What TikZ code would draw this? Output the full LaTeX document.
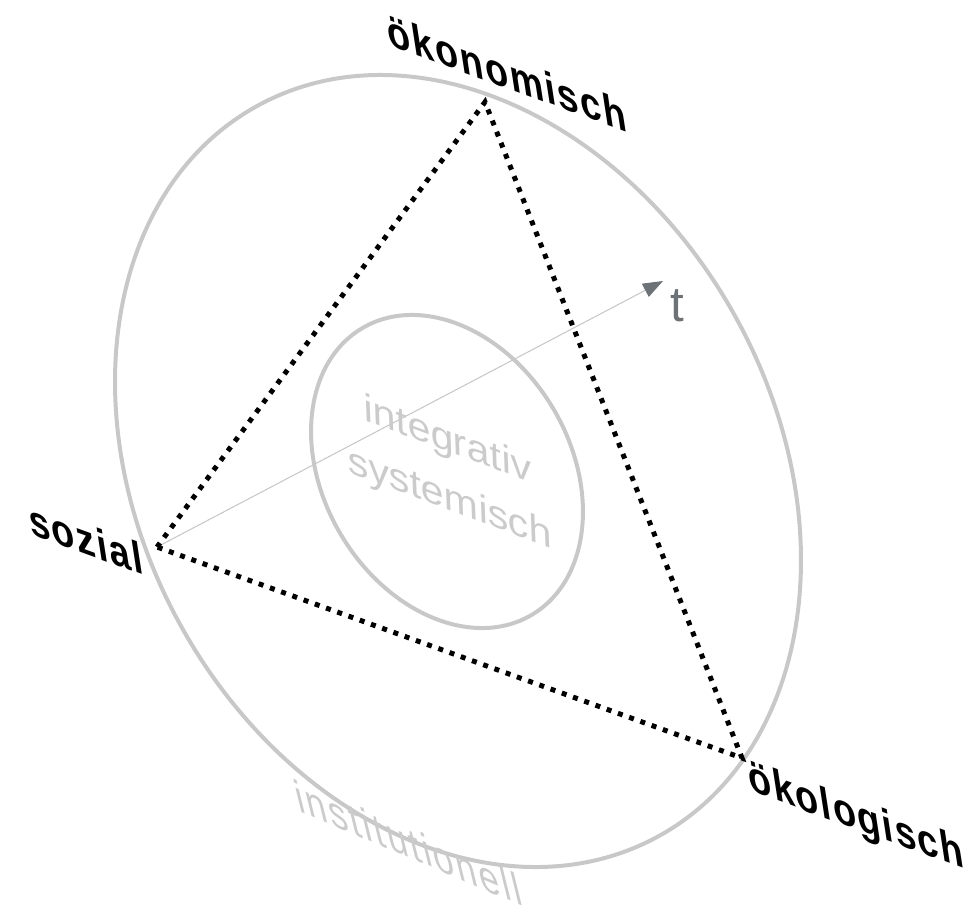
\documentclass[tikz,border=0pt]{standalone}
\usepackage{fontspec}
\setmainfont{Liberation Sans}
\newfontfamily\eckfont[LetterSpace=5]{Liberation Sans}
\newfontfamily\ebenefont[LetterSpace=7]{Liberation Sans}
\usetikzlibrary{arrows.meta}
\definecolor{ringgrau}{HTML}{C8C8C8}
\definecolor{textgrau}{HTML}{CBCBCB}
\definecolor{pfeilgrau}{HTML}{6D7276}
\tikzset{
  ring/.style={draw=ringgrau, line width=3pt},
  punktlinie/.style={line width=3.75pt, dash pattern=on 3.75pt off 5.2pt},
  ecke/.style={font=\eckfont\bfseries\fontsize{30pt}{30pt}\selectfont, anchor=base,
    transform shape, rotate=-20, xslant=-0.55, yscale=1.0, inner sep=0pt},
  ebene/.style={text=textgrau, transform shape, inner sep=0pt}
}
\begin{document}
\begin{tikzpicture}[x=0.75pt, y=-0.75pt]
  \useasboundingbox (0,0) rectangle (971,917);
  % 楕円（外側・内側）
  \draw[ring, rotate around={-61.25:(458,471)}] (458,471) ellipse (312.5pt and 238.1pt);
  \draw[ring, rotate around={-59.4:(447,471.5)}] (447,471.5) ellipse (124.9pt and 92.6pt);
  % 頂点
  \coordinate (oekon) at (485,102);
  \coordinate (sozi) at (157,547);
  \coordinate (oekol) at (742,758);
  \coordinate (zeitende) at (663,281);
  % 時間軸 t
  \draw[draw=ringgrau, line width=0.8pt,
    -{Triangle[color=pfeilgrau, length=15pt, width=11pt]}] (sozi) -- (zeitende);
  \node[font=\fontsize{37pt}{37pt}\selectfont, text=pfeilgrau] (zeit) at (677,306) {t};
  % 三角形（点線）
  \draw[punktlinie] (sozi) -- (oekon) -- (oekol) -- cycle;
  % 中央の文字
  \node[ebene, font=\fontsize{33pt}{50pt}\selectfont, align=center,
    rotate=-20.6, xslant=-0.42, yscale=0.82] (mitte) at (449,471) {integrativ\\systemisch};
  \node[ebene, font=\ebenefont\fontsize{30pt}{30pt}\selectfont, anchor=base,
    rotate=-23, xslant=-0.75, yscale=0.95] (inst) at (412,859) {institutionell};
  % 頂点の名前
  \node[ecke] (l-oekon) at (509,89) {ökonomisch};
  \node[ecke] (l-sozi) at (88,555) {sozial};
  \node[ecke] (l-oekol) at (858,830) {ökologisch};
\end{tikzpicture}
\end{document}
